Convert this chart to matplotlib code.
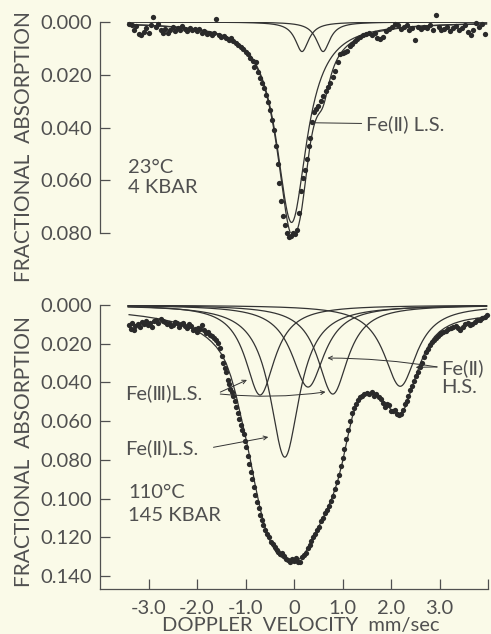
"""
Mossbauer spectra at 4 kbar and 145 kbar with fitted components
"""
import numpy as np
import matplotlib
matplotlib.use('Agg')
import matplotlib.pyplot as plt

#==================
# Data
# Top panel (23 C, 4 kbar): measured points
TOP_VEL = [-3.40, -3.35, -3.30, -3.25, -3.20, -3.15, -3.10, -3.05, -3.00, -2.95,
           -2.90, -2.85, -2.80, -2.75, -2.70, -2.65, -2.60, -2.55, -2.50, -2.45,
           -2.40, -2.35, -2.30, -2.25, -2.20, -2.15, -2.10, -2.05, -2.00, -1.95,
           -1.90, -1.85, -1.80, -1.75, -1.70, -1.65, -1.60, -1.55, -1.50, -1.45,
           -1.40, -1.35, -1.30, -1.25, -1.20, -1.15, -1.10, -1.05, -1.00, -0.95,
           -0.90, -0.85, -0.82, -0.78, -0.74, -0.70, -0.66, -0.62, -0.58, -0.54,
           -0.50, -0.46, -0.42, -0.38, -0.34, -0.30, -0.26, -0.22, -0.18, -0.14,
           -0.10, -0.06, -0.02, 0.02, 0.06, 0.10, 0.14, 0.18, 0.22, 0.26,
           0.30, 0.34, 0.38, 0.42, 0.46, 0.50, 0.55, 0.60, 0.65, 0.70,
           0.75, 0.80, 0.85, 0.90, 0.95, 1.00, 1.05, 1.10, 1.15, 1.20,
           1.25, 1.30, 1.36, 1.42, 1.48, 1.54, 1.60, 1.66, 1.72, 1.78,
           1.84, 1.90, 1.96, 2.02, 2.08, 2.14, 2.20, 2.26, 2.32, 2.38,
           2.44, 2.50, 2.56, 2.62, 2.68, 2.74, 2.80, 2.86, 2.92, 2.98,
           3.04, 3.10, 3.16, 3.22, 3.28, 3.34, 3.40, 3.46, 3.52, 3.58,
           3.64, 3.70, 3.76, 3.82, 3.88, 3.94]
TOP_ABS = [0.0008, 0.0012, 0.0030, 0.0015, 0.0044, 0.0050, 0.0038, 0.0022, 0.0040, 0.0012,
           -0.0018, 0.0018, 0.0008, 0.0030, 0.0042, 0.0025, 0.0040, 0.0030, 0.0019, 0.0035,
           0.0022, 0.0030, 0.0016, 0.0026, 0.0034, 0.0022, 0.0030, 0.0026, 0.0036, 0.0028,
           0.0040, 0.0034, 0.0044, 0.0040, 0.0048, 0.0042, -0.0012, 0.0050, 0.0056, 0.0052,
           0.0062, 0.0068, 0.0060, 0.0072, 0.0080, 0.0088, 0.0094, 0.0102, 0.0112, 0.0120,
           0.0136, 0.0148, 0.0170, 0.0150, 0.0190, 0.0212, 0.0232, 0.0250, 0.0275, 0.0305,
           0.0335, 0.0370, 0.0410, 0.0470, 0.0540, 0.0610, 0.0680, 0.0735, 0.0770, 0.0800,
           0.0815, 0.0810, 0.0800, 0.0805, 0.0790, 0.0725, 0.0640, 0.0590, 0.0560, 0.0520,
           0.0470, 0.0440, 0.0380, 0.0340, 0.0330, 0.0320, 0.0300, 0.0280, 0.0260, 0.0245,
           0.0230, 0.0210, 0.0185, 0.0150, 0.0122, 0.0118, 0.0115, 0.0110, 0.0090, 0.0082,
           0.0072, 0.0065, 0.0056, 0.0050, 0.0046, 0.0043, 0.0048, 0.0040, 0.0060, 0.0064,
           0.0055, 0.0035, 0.0028, 0.0020, 0.0006, 0.0012, 0.0025, 0.0018, 0.0010, 0.0030,
           0.0022, 0.0068, 0.0020, 0.0028, 0.0018, 0.0024, 0.0012, 0.0030, -0.0026, 0.0020,
           0.0032, 0.0026, 0.0018, 0.0034, 0.0022, 0.0014, 0.0030, 0.0024, 0.0010, 0.0038,
           0.0048, 0.0030, 0.0004, 0.0020, 0.0008, 0.0045]

# Top panel fitted lines: Fe(II) L.S. and a weak doublet
TOP_CENTERS = [-0.05, 0.165, 0.60]
TOP_DEPTHS = [0.0760, 0.0112, 0.0112]
TOP_HWHM = [0.38, 0.17, 0.17]

# Bottom panel (110 C, 145 kbar): measured points
BOT_VEL = [-3.40, -3.37, -3.34, -3.30, -3.27, -3.22, -3.18, -3.14, -3.10, -3.06,
           -3.02, -2.97, -2.93, -2.88, -2.84, -2.80, -2.75, -2.71, -2.66, -2.62,
           -2.57, -2.53, -2.49, -2.45, -2.41, -2.37, -2.33, -2.29, -2.25, -2.21,
           -2.17, -2.13, -2.09, -2.05, -2.01, -1.97, -1.93, -1.89, -1.85, -1.81,
           -1.77, -1.73, -1.69, -1.65, -1.61, -1.57, -1.53, -1.49, -1.46, -1.43,
           -1.40, -1.37, -1.34, -1.31, -1.28, -1.25, -1.22, -1.19, -1.16, -1.13,
           -1.10, -1.07, -1.04, -1.01, -0.98, -0.95, -0.92, -0.89, -0.86, -0.83,
           -0.80, -0.77, -0.73, -0.70, -0.66, -0.63, -0.60, -0.56, -0.52, -0.48,
           -0.44, -0.40, -0.36, -0.32, -0.28, -0.24, -0.20, -0.16, -0.12, -0.08,
           -0.04, 0.00, 0.04, 0.08, 0.12, 0.16, 0.20, 0.24, 0.28, 0.32,
           0.36, 0.40, 0.44, 0.48, 0.52, 0.56, 0.60, 0.64, 0.68, 0.72,
           0.76, 0.80, 0.84, 0.88, 0.92, 0.96, 1.00, 1.04, 1.08, 1.12,
           1.16, 1.20, 1.24, 1.28, 1.32, 1.36, 1.40, 1.45, 1.50, 1.55,
           1.60, 1.65, 1.70, 1.75, 1.80, 1.84, 1.88, 1.92, 1.96, 2.00,
           2.04, 2.08, 2.12, 2.16, 2.20, 2.24, 2.28, 2.32, 2.36, 2.40,
           2.44, 2.48, 2.52, 2.56, 2.60, 2.64, 2.68, 2.72, 2.76, 2.80,
           2.84, 2.88, 2.92, 2.96, 3.00, 3.04, 3.08, 3.13, 3.18, 3.23,
           3.28, 3.33, 3.38, 3.43, 3.48, 3.53, 3.58, 3.63, 3.68, 3.73,
           3.78, 3.83, 3.88, 3.93, 3.97]
BOT_ABS = [0.0105, 0.0125, 0.0095, 0.0130, 0.0110, 0.0100, 0.0115, 0.0090, 0.0098, 0.0085,
           0.0105, 0.0095, 0.0112, 0.0082, 0.0078, 0.0092, 0.0070, 0.0085, 0.0088, 0.0100,
           0.0095, 0.0108, 0.0102, 0.0086, 0.0092, 0.0112, 0.0098, 0.0094, 0.0110, 0.0120,
           0.0100, 0.0108, 0.0128, 0.0122, 0.0138, 0.0118, 0.0125, 0.0104, 0.0130, 0.0146,
           0.0140, 0.0156, 0.0160, 0.0168, 0.0182, 0.0195, 0.0224, 0.0262, 0.0301, 0.0325,
           0.0344, 0.0385, 0.0410, 0.0432, 0.0450, 0.0468, 0.0495, 0.0525, 0.0560, 0.0590,
           0.0620, 0.0645, 0.0668, 0.0700, 0.0735, 0.0780, 0.0822, 0.0862, 0.0900, 0.0940,
           0.0980, 0.1016, 0.1050, 0.1085, 0.1112, 0.1137, 0.1160, 0.1182, 0.1200, 0.1222,
           0.1235, 0.1252, 0.1266, 0.1275, 0.1285, 0.1282, 0.1298, 0.1310, 0.1318, 0.1327,
           0.1312, 0.1320, 0.1309, 0.1330, 0.1325, 0.1300, 0.1290, 0.1280, 0.1255, 0.1240,
           0.1218, 0.1200, 0.1185, 0.1160, 0.1145, 0.1115, 0.1098, 0.1077, 0.1058, 0.1040,
           0.1010, 0.0985, 0.0950, 0.0915, 0.0878, 0.0830, 0.0790, 0.0742, 0.0690, 0.0646,
           0.0600, 0.0560, 0.0530, 0.0510, 0.0490, 0.0475, 0.0468, 0.0458, 0.0455, 0.0462,
           0.0450, 0.0468, 0.0460, 0.0474, 0.0485, 0.0505, 0.0525, 0.0510, 0.0518, 0.0545,
           0.0550, 0.0540, 0.0562, 0.0570, 0.0565, 0.0540, 0.0512, 0.0495, 0.0470, 0.0440,
           0.0418, 0.0392, 0.0368, 0.0345, 0.0320, 0.0298, 0.0268, 0.0245, 0.0225, 0.0205,
           0.0192, 0.0180, 0.0168, 0.0160, 0.0152, 0.0145, 0.0140, 0.0135, 0.0126, 0.0121,
           0.0115, 0.0110, 0.0118, 0.0128, 0.0112, 0.0098, 0.0095, 0.0104, 0.0100, 0.0088,
           0.0080, 0.0075, 0.0068, 0.0060, 0.0052]

# Bottom panel fitted components: Fe(III) L.S., Fe(II) L.S., Fe(II) H.S.
BOT_CENTERS = [-0.70, -0.19, 0.29, 0.80, 2.19]
BOT_DEPTHS = [0.0465, 0.0786, 0.0424, 0.0460, 0.0420]
BOT_HWHM = [0.37, 0.37, 0.41, 0.38, 0.41]

# Bottom panel total fit
BOT_FIT_VEL = [-3.4, -3.3, -3.2, -3.1, -3.0, -2.9, -2.8, -2.7, -2.6, -2.5,
               -2.4, -2.3, -2.2, -2.1, -2.0, -1.9, -1.8, -1.7, -1.6, -1.5,
               -1.4, -1.3, -1.2, -1.1, -1.0, -0.9, -0.8, -0.7, -0.6, -0.5,
               -0.4, -0.3, -0.2, -0.1, 0.0, 0.1, 0.2, 0.3, 0.4, 0.5,
               0.6, 0.7, 0.8, 0.9, 1.0, 1.1, 1.2, 1.3, 1.4, 1.5,
               1.6, 1.7, 1.8, 1.9, 2.0, 2.1, 2.2, 2.3, 2.4, 2.5,
               2.6, 2.7, 2.8, 2.9, 3.0, 3.1, 3.2, 3.3, 3.4, 3.5,
               3.6, 3.7, 3.8, 3.9, 4.0]
BOT_FIT_ABS = [0.0050, 0.0053, 0.0056, 0.0059, 0.0063, 0.0067, 0.0071, 0.0076, 0.0081, 0.0087,
               0.0094, 0.0102, 0.0111, 0.0122, 0.0135, 0.0150, 0.0168, 0.0190, 0.0217, 0.0252,
               0.0300, 0.0370, 0.0460, 0.0570, 0.0680, 0.0800, 0.0930, 0.1050, 0.1145, 0.1215,
               0.1265, 0.1295, 0.1312, 0.1320, 0.1322, 0.1315, 0.1290, 0.1250, 0.1200, 0.1150,
               0.1100, 0.1045, 0.0985, 0.0910, 0.0810, 0.0690, 0.0580, 0.0505, 0.0465, 0.0452,
               0.0455, 0.0465, 0.0485, 0.0512, 0.0540, 0.0558, 0.0560, 0.0525, 0.0450, 0.0375,
               0.0305, 0.0245, 0.0198, 0.0163, 0.0138, 0.0120, 0.0106, 0.0095, 0.0087, 0.0080,
               0.0075, 0.0071, 0.0067, 0.0064, 0.0061]

TOP_YTICKS = [0.0, 0.02, 0.04, 0.06, 0.08]
TOP_YLABELS = ['0.000', '0.020', '0.040', '0.060', '0.080']
BOT_YTICKS = [0.0, 0.02, 0.04, 0.06, 0.08, 0.10, 0.12, 0.14]
BOT_YLABELS = ['0.000', '0.020', '0.040', '0.060', '0.080', '0.100', '0.120', '0.140']
XTICKS = [-3, -2, -1, 0, 1, 2, 3, 4]
XLABELS = ['-3.0', '-2.0', '-1.0', '0', '1.0', '2.0', '3.0', '']

#==================
# Style
BG = '#fafae8'
INK = '#333333'
TXT = '#505050'
plt.rcParams['font.family'] = ['Lato', 'DejaVu Sans']
plt.rcParams['axes.unicode_minus'] = False
FS = 14.5


def lorentz(v, center, depth, hwhm):
    return depth / (1.0 + ((v - center) / hwhm) ** 2)


def style_axis(ax, yticks, ylabels):
    ax.set_facecolor('none')
    for side in ['top', 'right', 'bottom', 'left']:
        ax.spines[side].set_visible(False)
    ax.spines['left'].set_visible(True)
    ax.spines['left'].set_color(TXT)
    ax.spines['left'].set_linewidth(0.9)
    ax.set_yticks(yticks)
    ax.set_yticklabels(ylabels)
    ax.tick_params(axis='y', direction='in', length=7, width=0.9, color=TXT,
                   labelcolor=TXT, labelsize=FS, pad=6)
    ax.set_xlim(-4.0, 4.0)


FIG = plt.figure(figsize=(4.91, 6.34), dpi=100, facecolor=BG)
V = np.linspace(-3.42, 3.97, 700)

#==================
# Top panel
AX1 = FIG.add_axes([100 / 491, (634 - 233) / 634, 388 / 491, 211 / 634])
style_axis(AX1, TOP_YTICKS, TOP_YLABELS)
AX1.set_ylim(0.080, 0.0)
AX1.set_xticks([])

TOP_TOTAL = np.zeros_like(V)
for c, d, g in zip(TOP_CENTERS, TOP_DEPTHS, TOP_HWHM):
    comp = lorentz(V, c, d, g)
    TOP_TOTAL += comp
    AX1.plot(V, comp, color=INK, lw=0.9)
AX1.plot(V, TOP_TOTAL, color=INK, lw=0.9)
AX1.plot(TOP_VEL, TOP_ABS, 'o', ms=3.8, color='#2a2a2a', mec='none', clip_on=False)

AX1.text(-3.42, 0.0550, '23°C', color=TXT, fontsize=FS, va='center', ha='left')
AX1.text(-3.42, 0.0626, '4 KBAR', color=TXT, fontsize=FS, va='center', ha='left')
AX1.annotate('Fe(Ⅱ) L.S.', xy=(0.376, 0.0382), xytext=(1.48, 0.0387),
             color=TXT, fontsize=FS, va='center', ha='left',
             arrowprops=dict(arrowstyle='-', color=INK, lw=0.7, shrinkA=1, shrinkB=0))

#==================
# Bottom panel
AX2 = FIG.add_axes([100 / 491, (634 - 589) / 634, 388 / 491, 284 / 634])
style_axis(AX2, BOT_YTICKS, BOT_YLABELS)
AX2.set_ylim(0.1467, 0.0)
AX2.spines['bottom'].set_visible(True)
AX2.spines['bottom'].set_color(TXT)
AX2.spines['bottom'].set_linewidth(0.9)
AX2.set_xticks(XTICKS)
AX2.set_xticklabels(XLABELS)
AX2.tick_params(axis='x', direction='in', length=7, width=0.9, color=TXT,
                labelcolor=TXT, labelsize=FS, pad=8)

for c, d, g in zip(BOT_CENTERS, BOT_DEPTHS, BOT_HWHM):
    AX2.plot(V, lorentz(V, c, d, g), color=INK, lw=0.9)
AX2.plot(BOT_FIT_VEL, BOT_FIT_ABS, color=INK, lw=0.9)
AX2.plot(BOT_VEL, BOT_ABS, 'o', ms=3.8, color='#2a2a2a', mec='none', clip_on=False)

AX2.text(-3.42, 0.0971, '110°C', color=TXT, fontsize=FS, va='center', ha='left')
AX2.text(-3.42, 0.1085, '145 KBAR', color=TXT, fontsize=FS, va='center', ha='left')

ARROW = dict(arrowstyle='->', color=INK, lw=0.7, shrinkA=0, shrinkB=0,
             mutation_scale=7)
AX2.text(-3.48, 0.0455, 'Fe(Ⅲ)L.S.', color=TXT, fontsize=FS, va='center', ha='left')
AX2.annotate('', xy=(-0.97, 0.0387), xytext=(-1.52, 0.0450), arrowprops=ARROW)
AX2.annotate('', xy=(0.65, 0.0449), xytext=(-1.52, 0.0460),
             arrowprops=dict(ARROW, connectionstyle='arc3,rad=0.06'))
AX2.text(-3.48, 0.0739, 'Fe(Ⅱ)L.S.', color=TXT, fontsize=FS, va='center', ha='left')
AX2.annotate('', xy=(-0.53, 0.0682), xytext=(-1.66, 0.0735), arrowprops=ARROW)
AX2.text(3.03, 0.0325, 'Fe(Ⅱ)', color=TXT, fontsize=FS, va='center', ha='left')
AX2.text(3.03, 0.0424, 'H.S.', color=TXT, fontsize=FS, va='center', ha='left')
AX2.annotate('', xy=(0.69, 0.0274), xytext=(2.95, 0.0320),
             arrowprops=dict(ARROW, connectionstyle='arc3,rad=0.04'))
AX2.annotate('', xy=(2.51, 0.0322), xytext=(2.95, 0.0320), arrowprops=ARROW)

#==================
# Axis titles
FIG.text(24 / 491, 1 - 147 / 634, 'FRACTIONAL  ABSORPTION', rotation=90, color=TXT,
         fontsize=15, ha='center', va='center')
FIG.text(24 / 491, 1 - 452 / 634, 'FRACTIONAL  ABSORPTION', rotation=90, color=TXT,
         fontsize=15, ha='center', va='center')
FIG.text(301 / 491, 1 - 631 / 634, 'DOPPLER  VELOCITY  mm/sec', color=TXT,
         fontsize=14.5, ha='center', va='baseline')

FIG.savefig('out.png', dpi=100, facecolor=BG)
